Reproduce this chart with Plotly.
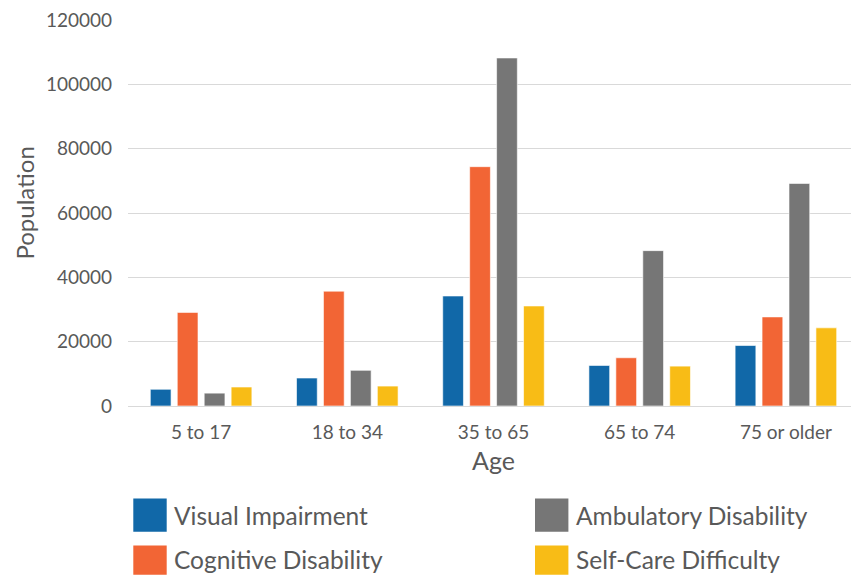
import plotly.graph_objects as go

categories = ["5 to 17", "18 to 34", "35 to 65", "65 to 74", "75 or older"]
visual = [5200, 8700, 34200, 12600, 18800]
cognitive = [29100, 35700, 74400, 15000, 27700]
ambulatory = [4000, 11100, 108200, 48300, 69200]
selfcare = [5900, 6200, 31100, 12400, 24300]

series_names = ["Visual Impairment", "Cognitive Disability", "Ambulatory Disability", "Self-Care Difficulty"]
series_values = [visual, cognitive, ambulatory, selfcare]
colors = ["#1168a8", "#f26535", "#767676", "#f8bc16"]

FONT = "Lato"
TXT = "#595959"

# page body has an 8px margin; figure is sized so it fills the window
OFF = 8
W, H = 859 - OFF, 576 - OFF
L, R, T, B = 128 - OFF, 0, 17 - OFF, 170

fig = go.Figure()
for name, vals, c in zip(series_names, series_values, colors):
    fig.add_trace(go.Bar(
        x=categories, y=vals, name=name,
        marker=dict(color=c, line=dict(color="rgba(255,255,255,0.6)", width=1)),
        showlegend=False,
    ))

pw = W - L - R
ph = H - T - B
def px(x):
    return (x - OFF - L) / pw
def py(y):
    return (H - B - (y - OFF)) / ph

# manual legend (2 columns x 2 rows), positions in window pixels
legend_layout = [
    (0, 133.3, 499.3, 516),   # Visual
    (1, 133.3, 546.7, 561),   # Cognitive
    (2, 535.0, 499.3, 516),   # Ambulatory
    (3, 535.0, 546.7, 561),   # Self-care
]
shapes = []
annotations = []
for idx, sx, sy, ty in legend_layout:
    shapes.append(dict(type="rect", xref="paper", yref="paper",
                       x0=px(sx), x1=px(sx + 33.4), y0=py(sy), y1=py(min(sy + 33.4, 576)),
                       fillcolor=colors[idx], line=dict(width=0)))
    annotations.append(dict(xref="paper", yref="paper", x=px(sx + 39), y=py(ty),
                            xanchor="left", yanchor="middle", showarrow=False,
                            text=series_names[idx],
                            font=dict(family=FONT, size=24.5, color=TXT)))

# y-axis title placed as rotated text
annotations.append(dict(xref="paper", yref="paper", x=px(25), y=py(201),
                        xanchor="center", yanchor="middle", showarrow=False,
                        text="Population", textangle=-90,
                        font=dict(family=FONT, size=24, color=TXT)))

fig.update_layout(
    width=W, height=H,
    margin=dict(l=L, r=R, t=T, b=B),
    paper_bgcolor="white", plot_bgcolor="white",
    barmode="group", bargap=0.263, bargroupgap=0.23,
    font=dict(family=FONT, color=TXT),
    shapes=shapes, annotations=annotations,
    xaxis=dict(
        title=dict(text="Age", font=dict(family=FONT, size=25, color=TXT), standoff=10),
        tickfont=dict(family=FONT, size=19, color=TXT),
        showline=True, linecolor="#d9d9d9", linewidth=1,
        ticks="", ticklabelstandoff=9, showgrid=False,
    ),
    yaxis=dict(
        range=[0, 120000], dtick=20000, tickformat="d",
        tickfont=dict(family=FONT, size=19, color=TXT),
        showgrid=True, gridcolor="#d9d9d9", gridwidth=1,
        zeroline=False, showline=False, ticks="", ticklabelstandoff=15,
        ticklabeloverflow="allow",
    ),
)

fig.write_html("out.html")
